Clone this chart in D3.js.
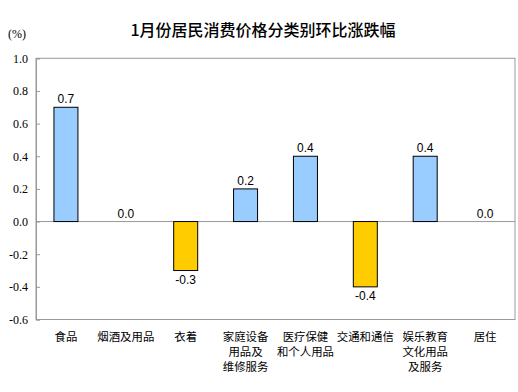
<!DOCTYPE html>
<html><head><meta charset="utf-8">
<script src="https://cdn.jsdelivr.net/npm/d3@7"></script>
<style>body{margin:0;background:#fff}svg{display:block}</style>
</head><body>
<script>
const categories = [["食品"],["烟酒及用品"],["衣着"],["家庭设备","用品及","维修服务"],["医疗保健","和个人用品"],["交通和通信"],["娱乐教育","文化用品","及服务"],["居住"]];
const values = [0.7, 0.0, -0.3, 0.2, 0.4, -0.4, 0.4, 0.0];
const yTicks = [1.0, 0.8, 0.6, 0.4, 0.2, 0.0, -0.2, -0.4, -0.6];
const title = "1月份居民消费价格分类别环比涨跌幅";
const unit = "(%)";

const W = 518, H = 392;
const L = 36, R = 515, T = 58.3, B = 319.5;
const svg = d3.select("body").append("svg").attr("width", W).attr("height", H);

const fmt = d => d3.format(".1f")(d).replace("\u2212", "-");

const x = d3.scaleBand().domain(d3.range(categories.length)).range([L, R]).paddingInner(0).paddingOuter(0);
const y = d3.scaleLinear().domain([-0.6, 1.0]).range([B, T]);

svg.append("text").attr("x", 263).attr("y", 36).attr("text-anchor", "middle")
  .attr("font-family", "'Noto Sans CJK SC', sans-serif").attr("font-size", 16).attr("font-weight", 500).attr("fill", "#000").text(title);
svg.append("text").attr("x", 8).attr("y", 38).attr("font-family", "'Liberation Serif', serif")
  .attr("font-size", 12).attr("fill", "#000").text(unit);

svg.append("rect").attr("x", L).attr("y", T).attr("width", R - L).attr("height", B - T)
  .attr("fill", "none").attr("stroke", "#999").attr("stroke-width", 1);

const yAxis = d3.axisLeft(y).tickValues(yTicks).tickSize(-4).tickPadding(10).tickFormat(fmt);
const gy = svg.append("g").attr("transform", `translate(${L},0)`).call(yAxis);
gy.attr("font-family", "'Liberation Serif', serif");
gy.select(".domain").attr("stroke", "#999");
gy.selectAll(".tick line").attr("stroke", "#999");
gy.selectAll(".tick text").attr("font-family", "'Liberation Serif', serif").attr("font-size", 12).attr("fill", "#000")
  .attr("text-anchor", "end").attr("x", -8);

svg.append("line").attr("x1", L).attr("x2", R).attr("y1", y(0)).attr("y2", y(0)).attr("stroke", "#999");

const bw = 24;
const barData = values.map((v, i) => ({v, i})).filter(d => d.v !== 0);
svg.selectAll("rect.bar").data(barData).enter().append("rect").attr("class", "bar")
  .attr("x", d => x(d.i) + x.bandwidth() / 2 - bw / 2)
  .attr("y", d => y(Math.max(0, d.v)))
  .attr("width", bw)
  .attr("height", d => Math.abs(y(d.v) - y(0)))
  .attr("fill", d => d.v > 0 ? "#99CCFF" : "#FFCC00")
  .attr("stroke", "#000").attr("stroke-width", 1);

svg.selectAll("text.val").data(values).enter().append("text").attr("class", "val")
  .attr("x", (d, i) => x(i) + x.bandwidth() / 2)
  .attr("y", d => d >= 0 ? y(d) - 4 : y(d) + 13)
  .attr("text-anchor", "middle").attr("font-family", "'Liberation Sans', Arial, sans-serif")
  .attr("font-size", 12).attr("fill", "#000")
  .text(d => fmt(d));

const cg = svg.selectAll("g.cat").data(categories).enter().append("g").attr("class", "cat");
cg.each(function(lines, i) {
  d3.select(this).selectAll("text").data(lines).enter().append("text")
    .attr("x", x(i) + x.bandwidth() / 2)
    .attr("y", (d, j) => 341 + j * 15)
    .attr("text-anchor", "middle")
    .attr("font-family", "'Noto Sans CJK SC', sans-serif").attr("font-size", 11.4).attr("fill", "#000")
    .text(d => d);
});
</script>
</body></html>
